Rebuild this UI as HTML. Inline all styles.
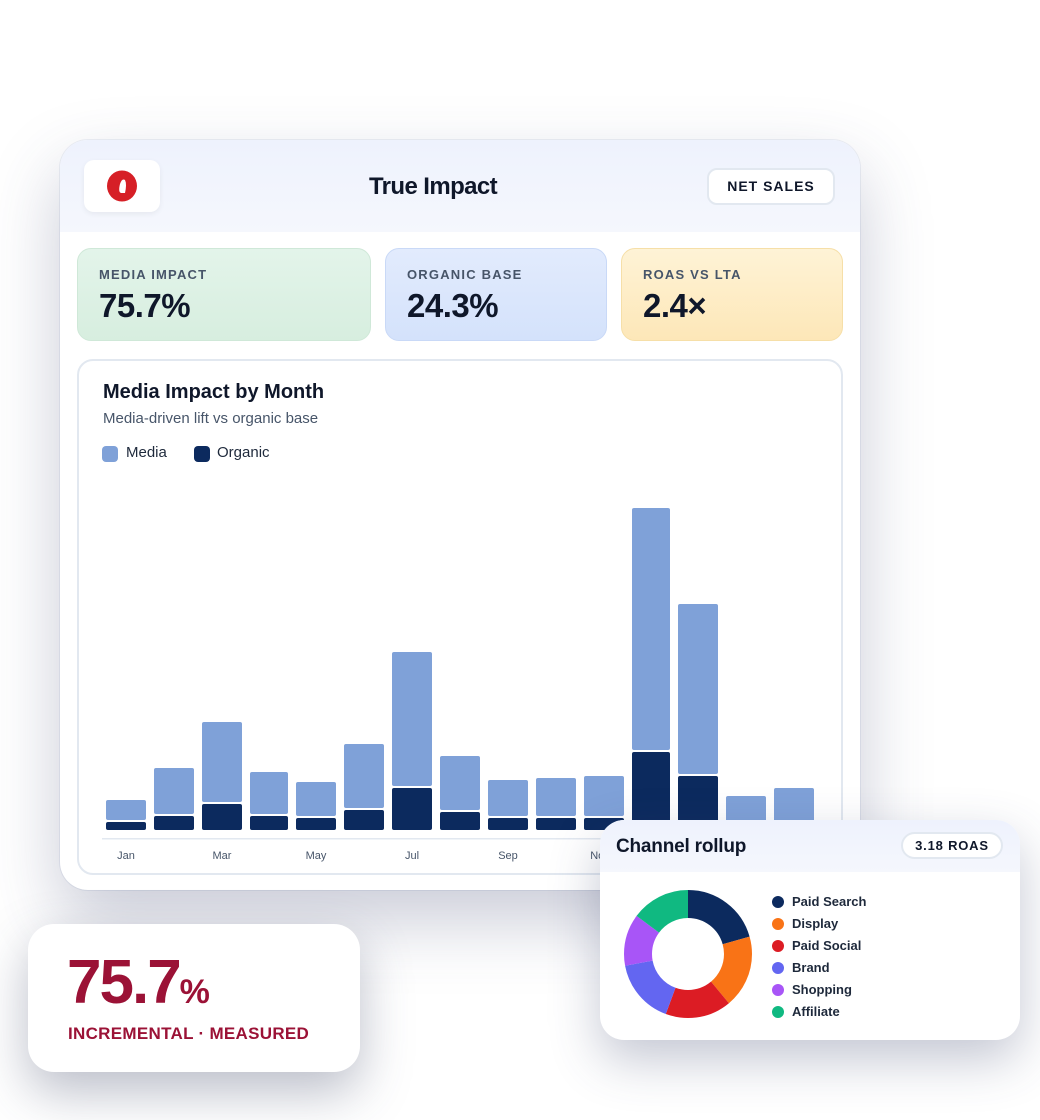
<!DOCTYPE html>
<html><head><meta charset="utf-8"><style>
*{margin:0;padding:0;box-sizing:border-box}
body{width:1040px;height:1120px;background:#fff;position:relative;overflow:hidden;font-family:"Liberation Sans",sans-serif;color:#0f172a}
.abs{position:absolute}
.main{left:60px;top:140px;width:800px;height:750px;border-radius:28px;background:#fff;box-shadow:0 30px 70px rgba(60,70,110,.28),0 0 0 1px rgba(226,232,240,.6);overflow:hidden}
.hdr{left:0;top:0;width:800px;height:92px;background:linear-gradient(180deg,#eef2fd,#f5f7fd)}
.kpi{top:108px;height:93px;border-radius:14px;padding:18px 21px}
.kpi .l{font-size:13px;font-weight:bold;letter-spacing:1.2px;color:#475569}
.kpi .v{font-size:33px;font-weight:bold;margin-top:5px;letter-spacing:-.5px;color:#0f172a}
.lab{font-size:11px;color:#475569;position:absolute;top:850px;transform:translateX(-50%)}
</style></head><body>
<div class="abs main">
  <div class="abs hdr"></div>
  <div class="abs" style="left:24px;top:20px;width:76px;height:52px;background:#fff;border-radius:10px;box-shadow:0 2px 6px rgba(0,0,0,.06)"></div>
  <svg class="abs" style="left:46px;top:30px" width="32" height="32"><ellipse cx="16" cy="16" rx="15" ry="15.5" fill="#d61f26"/><path d="M15 23 Q12 22 14 14 Q16 8 19 10 Q21 14 19 23 Z" fill="#fff"/></svg>
  <div class="abs" style="left:0;width:746px;top:33px;text-align:center;font-size:24px;font-weight:bold;letter-spacing:-.6px">True Impact</div>
  <div class="abs" style="left:647px;top:28px;width:128px;height:37px;border:2px solid #e2e8f0;border-radius:10px;background:#fff;text-align:center;line-height:33px;font-size:14px;font-weight:bold;letter-spacing:1px">NET SALES</div>
  <div class="abs kpi" style="left:17px;width:294px;background:linear-gradient(180deg,#e3f4ea,#d7eedf);border:1.5px solid #cfe8d8"><div class="l">MEDIA IMPACT</div><div class="v">75.7%</div></div>
  <div class="abs kpi" style="left:325px;width:222px;background:linear-gradient(180deg,#e2ebfd,#d4e2fb);border:1.5px solid #c9d9f7"><div class="l">ORGANIC BASE</div><div class="v">24.3%</div></div>
  <div class="abs kpi" style="left:561px;width:222px;background:linear-gradient(180deg,#fef3d6,#fde7b8);border:1.5px solid #f6dfa8"><div class="l">ROAS VS LTA</div><div class="v">2.4×</div></div>
  <div class="abs" style="left:17px;top:219px;width:766px;height:516px;border:2px solid #e2e8f0;border-radius:16px"></div>
  <div class="abs" style="left:43px;top:241px;font-size:20px;font-weight:bold">Media Impact by Month</div>
  <div class="abs" style="left:43px;top:270px;font-size:15px;color:#475569">Media-driven lift vs organic base</div>
  <div class="abs" style="left:42px;top:306px;width:16px;height:16px;border-radius:4px;background:#7fa1d8"></div>
  <div class="abs" style="left:66px;top:304px;font-size:15px;color:#1e293b">Media</div>
  <div class="abs" style="left:134px;top:306px;width:16px;height:16px;border-radius:4px;background:#0c2a5e"></div>
  <div class="abs" style="left:157px;top:304px;font-size:15px;color:#1e293b">Organic</div>
</div>
<svg class="abs" style="left:0;top:0" width="1040" height="1120">
<g fill="#7fa1d8">
<rect x="106" y="800" width="40" height="20" rx="2"/>
<rect x="154" y="768" width="40" height="46" rx="2"/>
<rect x="202" y="722" width="40" height="80" rx="2"/>
<rect x="250" y="772" width="38" height="42" rx="2"/>
<rect x="296" y="782" width="40" height="34" rx="2"/>
<rect x="344" y="744" width="40" height="64" rx="2"/>
<rect x="392" y="652" width="40" height="134" rx="2"/>
<rect x="440" y="756" width="40" height="54" rx="2"/>
<rect x="488" y="780" width="40" height="36" rx="2"/>
<rect x="536" y="778" width="40" height="38" rx="2"/>
<rect x="584" y="776" width="40" height="40" rx="2"/>
<rect x="632" y="508" width="38" height="242" rx="2"/>
<rect x="678" y="604" width="40" height="170" rx="2"/>
<rect x="726" y="796" width="40" height="34" rx="2"/>
<rect x="774" y="788" width="40" height="42" rx="2"/>
</g>
<g fill="#0c2a5e">
<rect x="106" y="822" width="40" height="8" rx="2"/>
<rect x="154" y="816" width="40" height="14" rx="2"/>
<rect x="202" y="804" width="40" height="26" rx="2"/>
<rect x="250" y="816" width="38" height="14" rx="2"/>
<rect x="296" y="818" width="40" height="12" rx="2"/>
<rect x="344" y="810" width="40" height="20" rx="2"/>
<rect x="392" y="788" width="40" height="42" rx="2"/>
<rect x="440" y="812" width="40" height="18" rx="2"/>
<rect x="488" y="818" width="40" height="12" rx="2"/>
<rect x="536" y="818" width="40" height="12" rx="2"/>
<rect x="584" y="818" width="40" height="12" rx="2"/>
<rect x="632" y="752" width="38" height="78" rx="2"/>
<rect x="678" y="776" width="40" height="54" rx="2"/>
</g>
<rect x="102" y="838" width="728" height="1.5" fill="#e2e8f0"/>
</svg>
<div class="lab" style="left:126px">Jan</div>
<div class="lab" style="left:222px">Mar</div>
<div class="lab" style="left:316px">May</div>
<div class="lab" style="left:412px">Jul</div>
<div class="lab" style="left:508px">Sep</div>
<div class="lab" style="left:600px">Nov</div>

<div class="abs" style="left:28px;top:924px;width:332px;height:148px;background:#fff;border-radius:26px;box-shadow:0 20px 50px rgba(60,70,100,.35)">
  <div class="abs" style="left:39px;top:28px;color:#9b1236;font-weight:bold;font-size:62px;letter-spacing:-2px;line-height:1">75.7<span style="font-size:34px;letter-spacing:0">%</span></div>
  <div class="abs" style="left:40px;top:100px;color:#9b1236;font-weight:bold;font-size:17px;letter-spacing:.3px">INCREMENTAL · MEASURED</div>
</div>

<div class="abs" style="left:600px;top:820px;width:420px;height:220px;background:#fff;border-radius:24px;box-shadow:0 20px 50px rgba(60,70,110,.3);overflow:hidden">
  <div class="abs" style="left:0;top:0;width:420px;height:52px;background:linear-gradient(180deg,#eef2fd,#f5f7fd)"></div>
  <div class="abs" style="left:16px;top:16px;font-size:19px;font-weight:bold;letter-spacing:-.2px">Channel rollup</div>
  <div class="abs" style="left:301px;top:12px;width:102px;height:27px;border:2px solid #e2e8f0;border-radius:14px;background:#fff;text-align:center;line-height:23px;font-size:13px;font-weight:bold;letter-spacing:.8px">3.18 ROAS</div>
  <svg class="abs" style="left:0;top:0" width="420" height="220">
    <g transform="rotate(-90 88 134)" fill="none" stroke-width="28">
      <circle cx="88" cy="134" r="50" stroke="#0c2a5e" stroke-dasharray="64.58 400" stroke-dashoffset="0"/>
      <circle cx="88" cy="134" r="50" stroke="#f97316" stroke-dasharray="57.6 400" stroke-dashoffset="-64.58"/>
      <circle cx="88" cy="134" r="50" stroke="#dc1c24" stroke-dasharray="52.36 400" stroke-dashoffset="-122.18"/>
      <circle cx="88" cy="134" r="50" stroke="#6366f1" stroke-dasharray="51.49 400" stroke-dashoffset="-174.54"/>
      <circle cx="88" cy="134" r="50" stroke="#a855f7" stroke-dasharray="41.02 400" stroke-dashoffset="-226.03"/>
      <circle cx="88" cy="134" r="50" stroke="#10b981" stroke-dasharray="47.12 400" stroke-dashoffset="-267.05"/>
    </g>
    <g font-family="Liberation Sans,sans-serif" font-size="13" font-weight="bold" fill="#1e293b">
      <circle cx="178" cy="82" r="6" fill="#0c2a5e"/><text x="192" y="86">Paid Search</text>
      <circle cx="178" cy="104" r="6" fill="#f97316"/><text x="192" y="108">Display</text>
      <circle cx="178" cy="126" r="6" fill="#dc1c24"/><text x="192" y="130">Paid Social</text>
      <circle cx="178" cy="148" r="6" fill="#6366f1"/><text x="192" y="152">Brand</text>
      <circle cx="178" cy="170" r="6" fill="#a855f7"/><text x="192" y="174">Shopping</text>
      <circle cx="178" cy="192" r="6" fill="#10b981"/><text x="192" y="196">Affiliate</text>
    </g>
  </svg>
</div>
</body></html>
